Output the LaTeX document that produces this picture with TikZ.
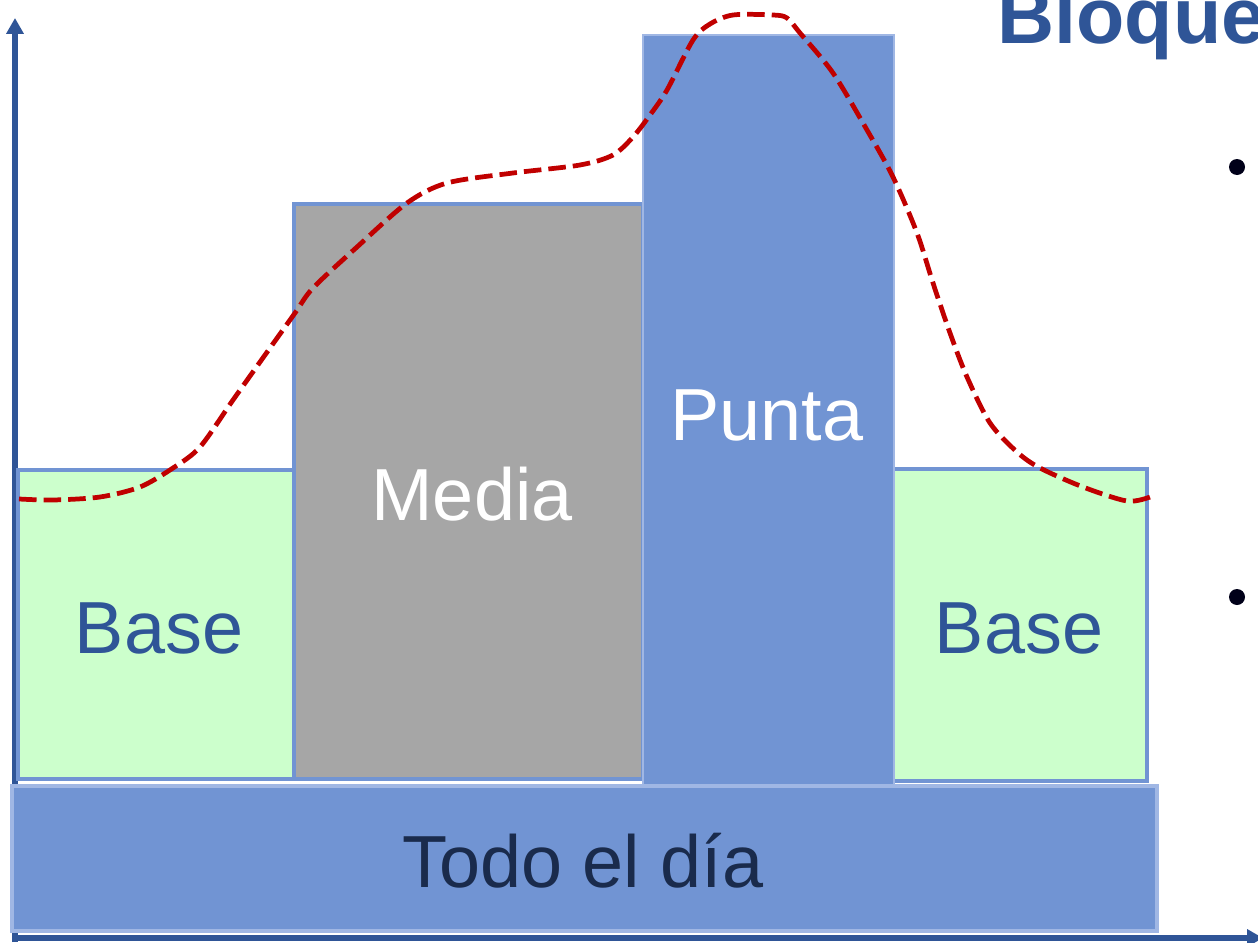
\documentclass[tikz,border=0pt]{standalone}
\usepackage{fontspec}
\setmainfont{Liberation Sans}
\usetikzlibrary{arrows.meta}
\definecolor{ejeazul}{RGB}{47,85,151}
\definecolor{bloqueazul}{RGB}{113,148,211}
\definecolor{bordeclaro}{RGB}{160,183,228}
\definecolor{verdebase}{RGB}{204,255,204}
\definecolor{grismedia}{RGB}{166,166,166}
\definecolor{textotodo}{RGB}{26,43,76}
\definecolor{curvaroja}{RGB}{192,0,0}
\begin{document}
\begin{tikzpicture}[x=0.02cm,y=-0.02cm,
    eje/.style={draw=ejeazul,line width=3.2pt,-{Triangle[width=9.5pt,length=9pt]}},
    caja/.style={draw=bloqueazul,line width=2.2pt},
    etiqueta/.style={inner sep=0pt,anchor=base,font=\fontsize{42}{50}\selectfont},
    demanda/.style={draw=curvaroja,line width=2.7pt,dash pattern=on 10pt off 4pt}]
            \useasboundingbox (0,0) rectangle (1258,943);
            \clip (0,0) rectangle (1258,943);
            \draw[eje] (15,942) -- (15,18);
            \draw[eje] (13,938) -- (1263,938);
            \draw[draw=bordeclaro,line width=2pt,fill=bloqueazul] (12,786) rectangle (1157,931);
            \draw[caja,fill=verdebase] (18,470) rectangle (297,779);
            \draw[caja,fill=grismedia] (294,204) rectangle (643,779);
            \draw[caja,fill=verdebase] (891,469) rectangle (1147,781);
            \draw[draw=bordeclaro,line width=1pt,fill=bloqueazul] (643,35) rectangle (894,785);
            \draw[demanda] plot[smooth] coordinates {(19,499) (53,500) (100,497) (140,487) (173,468)
                (200,447) (233,400) (265,355) (295,313) (313,288) (357,247) (407,203) (447,183)
                (513,173) (580,165) (613,155) (633,137) (650,115) (667,90) (693,40) (710,24)
                (733,15) (773,15) (787,18) (800,33) (833,73) (867,130) (893,177) (917,233)
                (933,283) (950,333) (967,377) (990,423) (1017,452) (1040,468) (1083,487)
                (1127,501) (1150,497)};
            \node[etiqueta,text=ejeazul] (baseizq) at (159,653) {Base};
            \node[etiqueta,text=white] (media) at (472,520) {Media};
            \node[etiqueta,text=white] (punta) at (767,440) {Punta};
            \node[etiqueta,text=ejeazul] (basedcha) at (1019,653) {Base};
            \node[etiqueta,text=textotodo] (todo) at (583,887) {Todo el día};
            \node[inner sep=0pt,anchor=base west,text=ejeazul,font=\fontsize{45}{54}\selectfont\bfseries] (titulo) at (997,43) {Bloque};
            \fill[black!90!blue] (1237,167) circle (8);
            \fill[black!90!blue] (1237,597) circle (8);
        \end{tikzpicture}
\end{document}
